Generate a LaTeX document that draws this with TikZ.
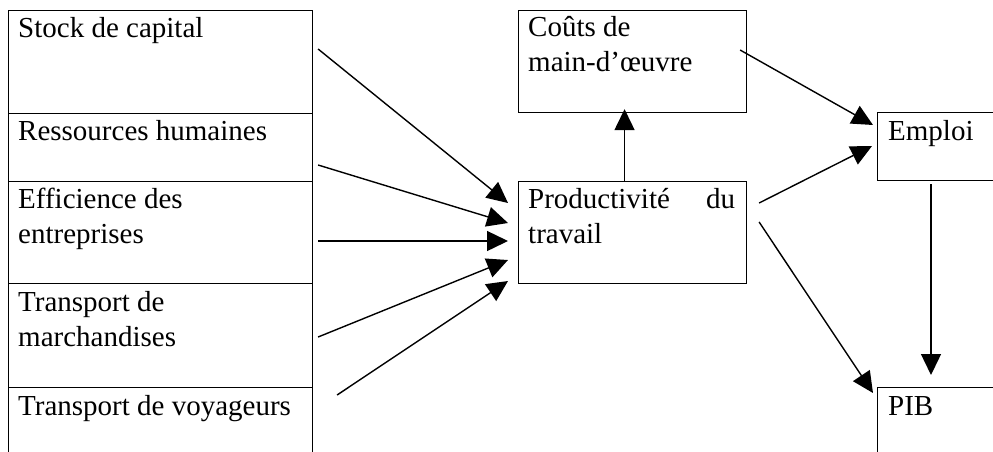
\documentclass[tikz,border=0pt]{standalone}
\usepackage{fontspec}
\setmainfont{Liberation Serif}
\usetikzlibrary{arrows.meta}

\begin{document}
\begin{tikzpicture}[x=1pt,y=-1pt,
	cellule/.style={draw,line width=1.1pt,rectangle,anchor=north west,inner sep=0pt},
	texte/.style={anchor=north west,inner sep=0pt,align=left,
		font=\fontsize{29}{34.5}\selectfont},
	fleche/.style={-{Triangle[length=21pt,width=20pt]},line width=1.4pt}]
	\useasboundingbox (0,0) rectangle (993,451);
	\clip (0,0) rectangle (993,451);

	% colonne de gauche
	\node[cellule,minimum width=304pt,minimum height=103.5pt] (stock) at (8,9.5) {};
	\node[cellule,minimum width=304pt,minimum height=68pt] (ressources) at (8,113) {};
	\node[cellule,minimum width=304pt,minimum height=102pt] (efficience) at (8,181) {};
	\node[cellule,minimum width=304pt,minimum height=104pt] (marchandises) at (8,283) {};
	\node[cellule,minimum width=304pt,minimum height=80pt] (voyageurs) at (8,387) {};

	% centre et droite
	\node[cellule,minimum width=228pt,minimum height=102.5pt] (couts) at (518,9.5) {};
	\node[cellule,minimum width=228pt,minimum height=102pt] (prod) at (518,181) {};
	\node[cellule,minimum width=140pt,minimum height=68pt] (emploi) at (877,112) {};
	\node[cellule,minimum width=140pt,minimum height=80pt] (pib) at (877,387) {};

	\node[texte] (t-stock) at ([xshift=10pt,yshift=-3.4pt]stock.north west) {\strut Stock de capital};
	\node[texte] (t-ressources) at ([xshift=10pt,yshift=-3.4pt]ressources.north west) {\strut Ressources humaines};
	\node[texte] (t-efficience) at ([xshift=10pt,yshift=-3.4pt]efficience.north west) {\strut Efficience des\\entreprises};
	\node[texte] (t-marchandises) at ([xshift=10pt,yshift=-4.5pt]marchandises.north west) {\strut Transport de\\marchandises};
	\node[texte] (t-voyageurs) at ([xshift=10pt,yshift=-4.2pt]voyageurs.north west) {\strut Transport de voyageurs};
	\node[texte] (t-couts) at ([xshift=10pt,yshift=-3pt]couts.north west) {\strut Coûts de\\main-d’œuvre};
	\node[texte,text width=207pt] (t-prod) at ([xshift=10pt,yshift=-3.4pt]prod.north west) {\strut Productivité\hfill du\\travail};
	\node[texte] (t-emploi) at ([xshift=11pt,yshift=-4.5pt]emploi.north west) {\strut Emploi};
	\node[texte] (t-pib) at ([xshift=11pt,yshift=-4.5pt]pib.north west) {\strut PIB};

	% fleches
	\draw[fleche] ([xshift=5pt,yshift=-39.5pt]stock.north east) -- ([xshift=-10pt,yshift=-22pt]prod.north west);
	\draw[fleche] ([xshift=5pt,yshift=-52pt]ressources.north east) -- ([xshift=-10pt,yshift=-42pt]prod.north west);
	\draw[fleche] ([xshift=5pt,yshift=-60pt]efficience.north east) -- ([xshift=-10pt,yshift=-60pt]prod.north west);
	\draw[fleche] ([xshift=5pt,yshift=-54pt]marchandises.north east) -- ([xshift=-10pt,yshift=-79pt]prod.north west);
	\draw[fleche] ([xshift=24pt,yshift=-8pt]voyageurs.north east) -- ([xshift=-10pt,yshift=-100pt]prod.north west);
	\draw[fleche] ([xshift=-8pt]prod.north) -- ([xshift=-8pt,yshift=4pt]couts.south);
	\draw[fleche] ([xshift=-7pt,yshift=-40.5pt]couts.north east) -- ([xshift=-4pt,yshift=-13pt]emploi.north west);
	\draw[fleche] ([xshift=12pt,yshift=-22pt]prod.north east) -- ([xshift=-5pt,yshift=-34pt]emploi.north west);
	\draw[fleche] ([xshift=12pt,yshift=-41pt]prod.north east) -- ([xshift=-4pt,yshift=-6pt]pib.north west);
	\draw[fleche] ([xshift=54pt,yshift=-3pt]emploi.south west) -- ([xshift=54pt,yshift=12pt]pib.north west);
\end{tikzpicture}
\end{document}
